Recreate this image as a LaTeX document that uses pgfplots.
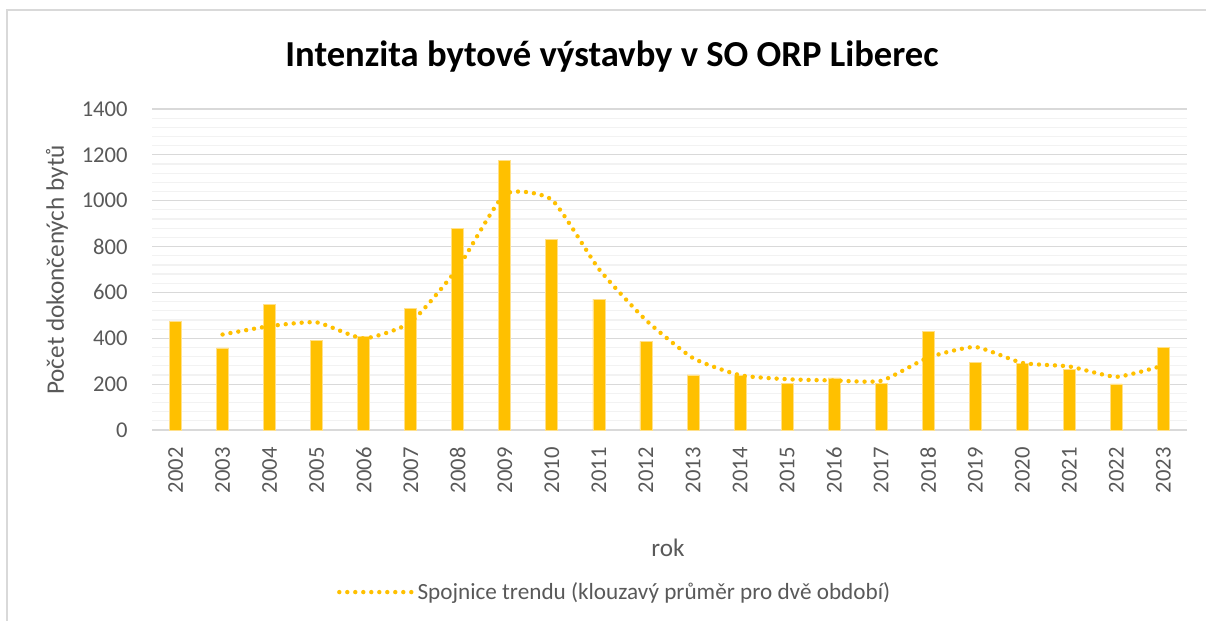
\documentclass[border=0pt]{standalone}
\usepackage{pgfplots}
\pgfplotsset{compat=1.18}
\usepackage{fontspec}
\setmainfont{Carlito}
\definecolor{barc}{HTML}{FFC000}
\definecolor{baredge}{HTML}{FFE08A}
\definecolor{txt}{HTML}{595959}
\definecolor{majg}{HTML}{D9D9D9}
\definecolor{ming}{HTML}{F2F2F2}
\begin{document}
\begin{tikzpicture}[x=0.5pt,y=-0.5pt]
\path[use as bounding box] (0,0) rectangle (1206,621);
\draw[majg, line width=1pt] (7,621) -- (7,10) -- (1206,10);
\node[font=\fontsize{18.3}{20}\selectfont\bfseries, text=black] at (612,57) {Intenzita bytové výstavby v SO ORP Liberec};
\node[font=\fontsize{12.6}{14}\selectfont, text=txt, rotate=90] at (57,270) {Počet dokončených bytů};
\node[font=\fontsize{12.6}{14}\selectfont, text=txt] at (668,548) {rok};
\begin{axis}[
  at={(76pt,-215pt)}, anchor=south west,
  scale only axis, width=517.5pt, height=160.5pt,
  xmin=-0.5, xmax=21.5, ymin=0, ymax=1400,
  xtick={0,...,21},
  xticklabels={2002,2003,2004,2005,2006,2007,2008,2009,2010,2011,2012,2013,2014,2015,2016,2017,2018,2019,2020,2021,2022,2023},
  ytick={0,200,...,1400},
  minor y tick num=4,
  ymajorgrids, yminorgrids,
  major grid style={majg, line width=0.6pt},
  minor grid style={ming, line width=0.6pt},
  axis line style={draw=none},
  tick style={draw=none},
  /pgf/number format/assume math mode=true,
  /pgf/number format/1000 sep={},
  ticklabel style={font=\fontsize{11.3}{13}\selectfont, text=txt, inner sep=0pt},
  xticklabel style={yshift=-8.5pt, rotate=90, anchor=east},
  yticklabel style={xshift=-12pt, anchor=east},
  legend style={at={(0.448,-0.505)}, anchor=center, draw=none, fill=none,
    font=\fontsize{11.6}{13}\selectfont, text=txt, inner sep=0pt},
  legend image code/.code={\draw[#1] (0pt,0pt) -- (36pt,0pt);},
  legend cell align=left,
]
\addplot[ybar, bar width=6pt, fill=barc, draw=baredge, line width=0.4pt, forget plot] coordinates {
(0,475) (1,358) (2,548) (3,391) (4,408) (5,532) (6,881) (7,1175) (8,833) (9,571)
(10,387) (11,240) (12,238) (13,205) (14,227) (15,202) (16,430) (17,294) (18,291)
(19,263) (20,201) (21,362)
};
\addplot[barc, line width=2.2pt, line cap=round, dash pattern=on 0pt off 4pt, smooth, tension=0.32] coordinates {
(1,416.5) (2,453) (3,469.5) (4,399.5) (5,470) (6,706.5) (7,1028) (8,1004) (9,702)
(10,479) (11,313.5) (12,239) (13,221.5) (14,216) (15,214.5) (16,316) (17,362)
(18,292.5) (19,277) (20,232) (21,281.5)
};
\addlegendentry{Spojnice trendu (klouzavý průměr pro dvě období)}
\end{axis}
\end{tikzpicture}
\end{document}
